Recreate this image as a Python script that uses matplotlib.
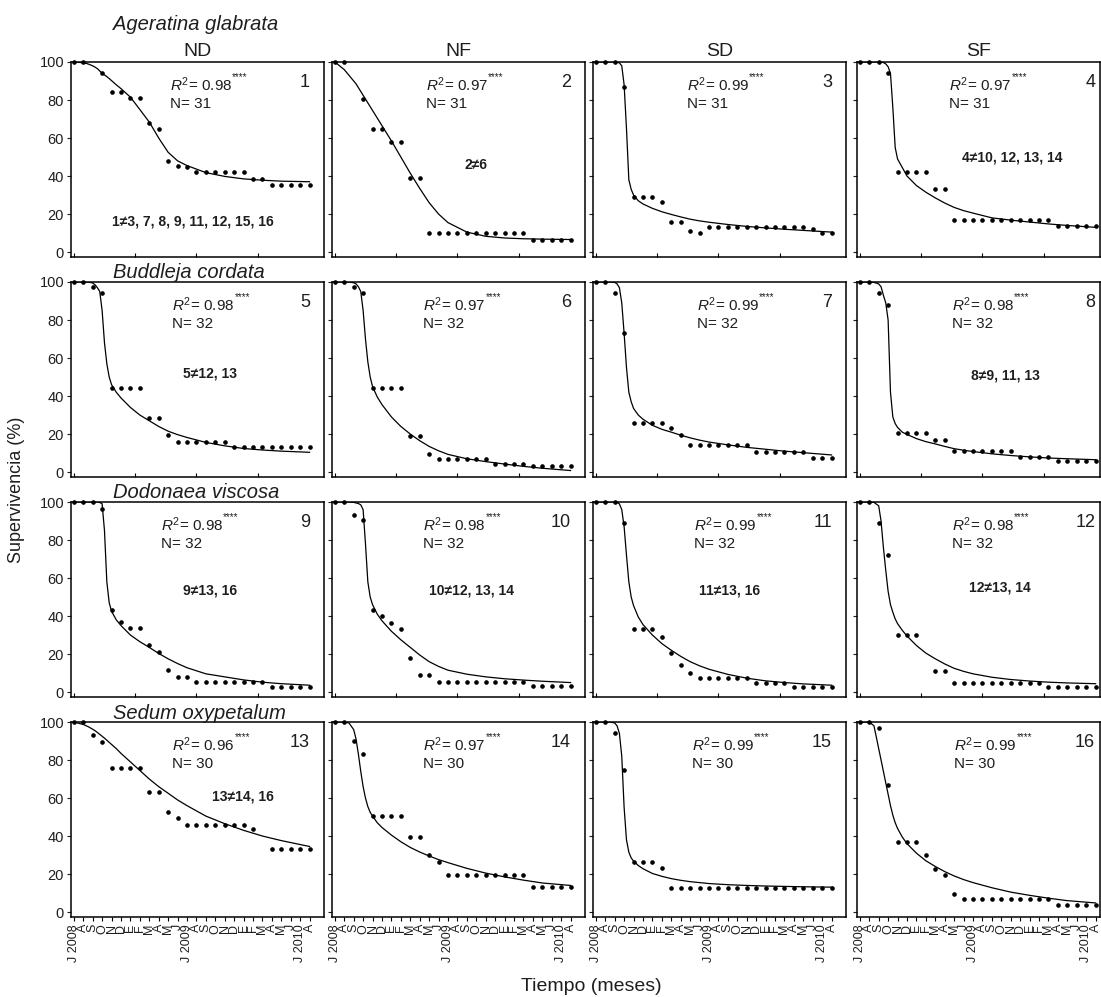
import numpy as np
import matplotlib
matplotlib.use('Agg')
import matplotlib.pyplot as plt

plt.rcParams['font.family'] = ['Liberation Sans', 'DejaVu Sans']
plt.rcParams['mathtext.fontset'] = 'custom'
plt.rcParams['mathtext.rm'] = 'Liberation Sans'
plt.rcParams['mathtext.it'] = 'Liberation Sans:italic'

# months since July 2008 (J 2008 ... A 2010)
months = np.arange(26)
month_labels = ['J 2008', 'A', 'S', 'O', 'N', 'D', 'E', 'F', 'M', 'A', 'M', 'J',
                'J 2009', 'A', 'S', 'O', 'N', 'D', 'E', 'F', 'M', 'A', 'M', 'J',
                'J 2010', 'A']
species = ['Ageratina glabrata', 'Buddleja cordata', 'Dodonaea viscosa', 'Sedum oxypetalum']
treatments = ['ND', 'NF', 'SD', 'SF']
r2_values = ['0.98', '0.97', '0.99', '0.97',
             '0.98', '0.97', '0.99', '0.98',
             '0.98', '0.98', '0.99', '0.98',
             '0.96', '0.97', '0.99', '0.99']
n_values = [31, 31, 31, 31, 32, 32, 32, 32, 32, 32, 32, 32, 30, 30, 30, 30]
comparisons = {1: '1≠3, 7, 8, 9, 11, 12, 15, 16', 2: '2≠6', 4: '4≠10, 12, 13, 14',
               5: '5≠12, 13', 8: '8≠9, 11, 13', 9: '9≠13, 16', 10: '10≠12, 13, 14',
               11: '11≠13, 16', 12: '12≠13, 14', 13: '13≠14, 16'}
nan = np.nan

# observed survival (%) per month, panels 1..16
surv_1 = [100, 100, nan, 94, 84, 84, 81, 81, 68, 65, 48, 45.5, 45, 42, 42, 42, 42, 42, 42, 38.5, 38.5, 35.5, 35.5, 35.5, 35.5, 35.5]
surv_2 = [100, 100, nan, 80.5, 65, 65, 58, 58, 39, 39, 10, 10, 10, 10, 10, 10, 10, 10, 10, 10, 10, 6.6, 6.6, 6.6, 6.6, 6.6]
surv_3 = [100, 100, 100, 87, 29, 29, 29, 26.5, 16, 16, 11, 10, 13, 13, 13, 13, 13, 13, 13, 13, 13, 13, 13, 12, 10, 10]
surv_4 = [100, 100, 100, 94, 42, 42, 42, 42, 33, 33, 16.7, 16.7, 16.7, 16.7, 16.7, 16.7, 16.7, 16.7, 16.7, 16.7, 16.7, 13.8, 13.8, 13.8, 13.8, 13.8]
surv_5 = [100, 100, 97.4, 94, 44, 44, 44, 44, 28.7, 28.7, 19.7, 15.7, 15.7, 15.7, 15.7, 15.7, 15.7, 13, 13, 13, 13, 13, 13, 13, 13, 13]
surv_6 = [100, 100, 97.4, 94, 44, 44, 44, 44, 19, 19, 9.6, 7, 7, 7, 7, 7, 7, 4.5, 4.5, 4.5, 4.5, 3, 3, 3, 3, 3]
surv_7 = [100, 100, 94.3, 73, 25.6, 25.6, 25.6, 25.6, 23, 19.5, 14, 14.4, 14.4, 14.4, 14.4, 14.4, 14.4, 10.4, 10.4, 10.4, 10.4, 10.4, 10.4, 7.5, 7.5, 7.5]
surv_8 = [100, 100, 94.3, 88, 20.3, 20.3, 20.3, 20.3, 17, 17, 11, 11, 11, 11, 11, 11, 11, 7.8, 7.8, 7.8, 7.8, 6, 6, 6, 6, 6]
surv_9 = [100, 100, 100, 96.3, 43, 37, 33.5, 33.5, 24.5, 21, 11.6, 8, 8, 5.3, 5.3, 5.3, 5.3, 5.3, 5.3, 5.3, 5.3, 2.6, 2.6, 2.6, 2.6, 2.6]
surv_10 = [100, 100, 93, 90.5, 43, 40, 36.5, 33, 17.7, 9, 9, 5.4, 5.4, 5.4, 5.4, 5.4, 5.4, 5.4, 5.4, 5.4, 5.4, 3, 3, 3, 3, 3]
surv_11 = [100, 100, 100, 88.8, 33, 33, 33, 29, 20.7, 14, 9.8, 7.2, 7.2, 7.2, 7.2, 7.2, 7.2, 4.6, 4.6, 4.6, 4.6, 2.6, 2.6, 2.6, 2.6, 2.6]
surv_12 = [100, 100, 88.8, 72, 30, 30, 30, nan, 11, 11, 5, 5, 5, 5, 5, 5, 5, 5, 5, 5, 2.6, 2.6, 2.6, 2.6, 2.6, 2.6]
surv_13 = [100, 100, 93, 89.5, 75.8, 75.8, 75.8, 75.8, 63, 63, 52.6, 49.5, 46, 46, 46, 46, 46, 46, 46, 43.5, nan, 33.3, 33.3, 33.3, 33.3, 33.3]
surv_14 = [100, 100, 89.8, 83.3, 50.4, 50.4, 50.4, 50.4, 39.5, 39.5, 29.8, 26.3, 19.3, 19.3, 19.3, 19.3, 19.3, 19.3, 19.3, 19.3, 19.3, 13.2, 13.2, 13.2, 13.2, 13.2]
surv_15 = [100, 100, 94, 74.6, 26.3, 26.3, 26.3, 23.1, 12.6, 12.6, 12.6, 12.6, 12.6, 12.6, 12.6, 12.6, 12.6, 12.6, 12.6, 12.6, 12.6, 12.6, 12.6, 12.6, 12.6, 12.6]
surv_16 = [100, 100, 96.8, 66.7, 36.8, 36.8, 36.8, 29.8, 22.8, 19.3, 9.6, 7, 7, 7, 7, 7, 7, 7, 7, 7, 7, 3.5, 3.5, 3.5, 3.5, 3.5]

# fitted curves, read at these months
curve_t = [0, 1, 1.5, 2, 2.25, 2.5, 2.75, 3, 3.25, 3.5, 3.75, 4, 4.5, 5, 6, 7, 8, 9, 10, 11, 12, 14, 16, 18, 20, 22, 25]
fit_1 = [100, 99.6, 99, 98, 97.3, 96.5, 95.3, 94, 93.2, 92.3, 91.3, 90.2, 88, 86, 81.5, 75, 68.4, 60, 52.5, 48, 45.5, 41.8, 39.8, 38.5, 37.8, 37.3, 37]
fit_2 = [100, 96, 93, 90, 88.5, 86.5, 84.5, 82.5, 80.5, 78.5, 76.5, 74.5, 70.5, 66.5, 58.5, 50, 41.5, 33.5, 26, 20, 15.5, 10.5, 8.3, 7.4, 7, 6.8, 6.6]
fit_3 = [100, 100, 100, 100, 100, 99.5, 98, 88, 65, 38, 33, 30, 27, 25.3, 23, 21.2, 19.8, 18.5, 17.3, 16.4, 15.7, 14.5, 13.5, 12.7, 12, 11.4, 10.5]
fit_4 = [100, 100, 100, 100, 100, 99.7, 99, 97.5, 94, 76, 55, 49, 44.5, 40, 35, 31.5, 28.5, 25.8, 23.5, 21.8, 20.5, 18, 16.8, 15.8, 14.8, 14, 13]
fit_5 = [100, 100, 100, 99.5, 98.5, 97, 95, 85, 68, 57, 50, 46, 42, 39, 34, 30, 27, 24, 21.5, 19.7, 18.2, 15.6, 13.8, 12.4, 11.6, 11, 10.4]
fit_6 = [100, 100, 100, 99.6, 99, 97.5, 95, 85, 70, 58, 50, 45, 39.5, 35.5, 29, 24, 20, 16.5, 13.5, 11.2, 9.3, 7, 5.5, 4.2, 3, 2, 0.8]
fit_7 = [100, 100, 100, 99.8, 99, 97, 89, 73, 55, 42, 37, 33.5, 30, 27.8, 24.6, 22.5, 21, 19.4, 18, 16.8, 15.8, 14.3, 13, 12, 11, 10.2, 9]
fit_8 = [100, 100, 99.8, 99, 97.5, 93, 89, 80, 42, 29, 25.5, 23.5, 21, 19.8, 17.6, 16, 14.8, 13.5, 12.3, 11.5, 10.8, 9.6, 8.7, 8, 7.4, 7, 6.5]
fit_9 = [100, 100, 100, 100, 100, 100, 99.8, 99, 85, 58, 47, 42.5, 38, 35, 30, 26.5, 23.5, 20.3, 17.5, 15, 12.8, 9.6, 8, 6.4, 5.2, 4.4, 3.6]
fit_10 = [100, 100, 100, 99.8, 99.5, 99.2, 98.5, 96, 78, 58, 50, 46, 41, 37.5, 32, 27.5, 23.5, 19.5, 16, 13.5, 11.5, 9.4, 8, 7, 6.3, 5.7, 5]
fit_11 = [100, 100, 100, 100, 99.8, 99, 96, 87, 72, 58, 50, 45.5, 39.5, 35.5, 30, 25.5, 22, 18.8, 16, 13.8, 12, 9.3, 7.3, 5.9, 5, 4.3, 3.6]
fit_12 = [100, 100, 99.8, 98, 90, 76, 64, 53, 46, 42, 38.5, 36, 32.5, 29.5, 24.5, 20.5, 17.5, 14.8, 12.5, 10.9, 9.6, 7.8, 6.6, 5.8, 5.2, 4.8, 4.4]
fit_13 = [100, 98.7, 97.6, 96.2, 95.4, 94.5, 93.5, 92.5, 91.5, 90.4, 89.3, 88.2, 86, 83.5, 79, 74.5, 70, 66, 62.5, 59, 56, 50.5, 46.5, 43, 40, 37.6, 34.5]
fit_14 = [100, 100, 99.5, 96, 91, 83, 74, 66, 60, 55.5, 52.5, 50.5, 47, 44.5, 40.5, 37, 34, 31.6, 29.5, 27.6, 26, 23, 20.5, 18.5, 16.8, 15.3, 14]
fit_15 = [100, 100, 100, 99.5, 98, 94, 82, 55, 38, 31.5, 28.5, 26.8, 24.5, 22.8, 20.3, 18.8, 17.6, 16.7, 16, 15.5, 15, 14.4, 14, 13.7, 13.5, 13.3, 13.1]
fit_16 = [100, 100, 98, 86, 80, 74, 68, 62, 56, 51, 47, 44, 39.5, 36, 31, 27, 24, 21.3, 19, 17.1, 15.5, 12.8, 10.5, 8.8, 7.3, 6, 4.8]

surv = [surv_1, surv_2, surv_3, surv_4, surv_5, surv_6, surv_7, surv_8,
        surv_9, surv_10, surv_11, surv_12, surv_13, surv_14, surv_15, surv_16]
fits = [fit_1, fit_2, fit_3, fit_4, fit_5, fit_6, fit_7, fit_8,
        fit_9, fit_10, fit_11, fit_12, fit_13, fit_14, fit_15, fit_16]

W, H = 1101, 997
fig = plt.figure(figsize=(W / 100, H / 100), dpi=100)
txt = '#1e1e1e'

lefts = [71, 332, 593, 857]
widths = [253, 253, 253, 243]
tops = [62, 282, 502, 722]
ph = 195
px_month = 9.43
# text placement (axes fraction for x)
r2_x = [0.39, 0.37, 0.37, 0.38, 0.40, 0.36, 0.41, 0.39,
        0.355, 0.36, 0.40, 0.39, 0.40, 0.36, 0.39, 0.40]
cmp_pos = {1: (0.48, 16), 2: (0.57, 46), 4: (0.64, 50), 5: (0.55, 52), 8: (0.61, 51),
           9: (0.55, 53.5), 10: (0.55, 53.5), 11: (0.54, 53.5), 12: (0.59, 55), 13: (0.68, 61)}
title_y = [25, 272, 492, 713]

for i in range(16):
    r, c = divmod(i, 4)
    ax = fig.add_axes([lefts[c] / W, 1 - (tops[r] + ph) / H, widths[c] / W, ph / H])
    ax.plot(curve_t, fits[i], color='k', lw=0.9)
    ax.plot(months, surv[i], 'o', ms=2.3, color='k', clip_on=False)
    ax.set_xlim(-0.3, -0.3 + widths[c] / px_month)
    ax.set_ylim(-2.6, 100)
    ax.set_yticks(range(0, 101, 20))
    ax.tick_params(axis='y', direction='out', length=3, width=0.8, labelsize=10.5,
                   colors=txt, pad=2, labelleft=(c == 0))
    if r == 3:
        ax.set_xticks(months)
        ax.set_xticklabels(month_labels, rotation=90, fontsize=9, color=txt)
        ax.tick_params(axis='x', direction='out', length=3, width=0.8, pad=2)
    else:
        ax.set_xticks([0, 6.5, 13, 19.5])
        ax.set_xticklabels([])
        ax.tick_params(axis='x', direction='in', length=3, width=0.8)
    for s in ax.spines.values():
        s.set_linewidth(1.1)
    n = i + 1
    yx = ax.get_yaxis_transform()
    t = ax.text(r2_x[i], 88, '$R^2$= ' + r2_values[i], transform=yx, fontsize=11,
                color=txt, va='center', ha='left')
    ax.annotate('****', xy=(1.0, 0.62), xycoords=t, fontsize=7, color=txt,
                va='bottom', ha='left')
    ax.text(r2_x[i], 78, 'N= %d' % n_values[i], transform=yx, fontsize=11,
            color=txt, va='center', ha='left')
    ax.text(0.98 if c == 3 else 0.945, 89, str(n), transform=yx, fontsize=13,
            color=txt, va='center', ha='right')
    if n in comparisons:
        cx, cy = cmp_pos[n]
        ax.text(cx, cy, comparisons[n], transform=yx, fontsize=10, fontweight='bold',
                color=txt, va='center', ha='center')
    if r == 0:
        ax.set_title(treatments[c], fontsize=14, color=txt, pad=4)
    if c == 0:
        fig.text(113 / W, 1 - title_y[r] / H, species[r], fontsize=14.5,
                 style='italic', color=txt, va='center', ha='left')

fig.text(17 / W, 1 - 490 / H, 'Supervivencia (%)', rotation=90, fontsize=13,
         color=txt, va='center', ha='center')
fig.text(591 / W, 1 - 986 / H, 'Tiempo (meses)', fontsize=14, color=txt,
         va='center', ha='center')

fig.savefig('out.png', dpi=100)
